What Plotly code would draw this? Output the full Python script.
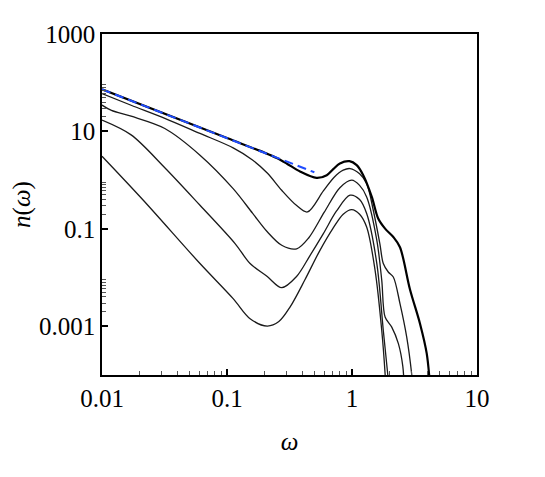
import plotly.graph_objects as go

# curve values (omega, n)
omega_a = [0.01, 0.1, 0.2, 0.25, 0.3, 0.384, 0.52, 0.628, 0.708, 0.80, 0.955, 1.09, 1.23, 1.44, 1.62, 1.84, 2.14, 2.42, 2.91, 3.50, 3.96, 4.21]
n_a = [73, 7.3, 3.65, 2.85, 2.2, 1.5, 1.11, 1.26, 1.68, 2.20, 2.45, 2.03, 1.26, 0.453, 0.163, 0.101, 0.0682, 0.042, 0.0057, 0.00113, 2.77e-4, 6.0e-5]

omega_b = [0.01, 0.0171, 0.0318, 0.0608, 0.112, 0.16, 0.21, 0.274, 0.361, 0.44, 0.59, 0.72, 0.85, 0.964, 1.15, 1.31, 1.48, 1.67, 1.78, 1.95, 2.14, 2.42, 2.74, 3.0, 3.08]
n_b = [60, 34.5, 18.6, 9.1, 4.6, 2.6, 1.4, 0.62, 0.3, 0.222, 0.6, 1.15, 1.6, 1.73, 1.35, 0.853, 0.241, 0.0499, 0.0194, 0.0130, 0.0103, 0.00292, 6.0e-4, 1.06e-4, 4.8e-5]

omega_c = [0.01, 0.0119, 0.0171, 0.0318, 0.0608, 0.112, 0.16, 0.21, 0.274, 0.361, 0.45, 0.6, 0.8, 0.995, 1.15, 1.31, 1.58, 1.73, 1.84, 2.08, 2.35, 2.55, 2.62]
n_c = [34.7, 27, 20.5, 11.5, 3.26, 0.67, 0.21, 0.087, 0.046, 0.039, 0.065, 0.22, 0.7, 1.0, 0.78, 0.453, 0.0583, 0.00877, 0.00155, 9.6e-4, 4.4e-4, 1.5e-4, 4.8e-5]

omega_d = [0.01, 0.0171, 0.0318, 0.0608, 0.116, 0.153, 0.21, 0.274, 0.36, 0.46, 0.59, 0.75, 0.964, 1.15, 1.31, 1.58, 1.78, 1.93, 1.98]
n_d = [17.1, 8.5, 1.8, 0.305, 0.0499, 0.0194, 0.0105, 0.0062, 0.0105, 0.028, 0.08, 0.23, 0.491, 0.4, 0.206, 0.0194, 8.2e-4, 1.06e-4, 4.8e-5]

omega_e = [0.01, 0.0214, 0.0608, 0.112, 0.153, 0.21, 0.26, 0.32, 0.42, 0.55, 0.7, 0.85, 0.995, 1.15, 1.31, 1.53, 1.73, 1.84, 1.87]
n_e = [3.10, 0.387, 0.0194, 0.00369, 0.00143, 0.00101, 0.00125, 0.0025, 0.009, 0.035, 0.1, 0.2, 0.249, 0.2, 0.109, 0.0141, 8.2e-4, 1.06e-4, 4.8e-5]

# power-law guide (blue dashed)
omega_fit = [0.01, 0.5]
n_fit = [73, 1.45]

x_ticks = [0.01, 0.1, 1, 10]
x_labels = ["0.01", "0.1", "1", "10"]
y_ticks = [0.001, 0.1, 10, 1000]
y_labels = ["0.001", "0.1", "10", "1000"]

x_minor = [k * 10.0 ** e for e in (-2, -1, 0) for k in range(2, 10)]
y_minor = [k * 10.0 ** e for e in (-3, -1, 1) for k in range(2, 10)]

fig = go.Figure()

thin = [(omega_e, n_e), (omega_d, n_d), (omega_c, n_c), (omega_b, n_b)]
for om, nn in thin:
    fig.add_trace(go.Scatter(
        x=om, y=nn, mode="lines",
        line=dict(color="#1a1a1a", width=1.3, shape="spline", smoothing=0.9),
        showlegend=False,
    ))

fig.add_trace(go.Scatter(
    x=omega_a, y=n_a, mode="lines",
    line=dict(color="#000000", width=2.2, shape="spline", smoothing=0.9),
    showlegend=False,
))

fig.add_trace(go.Scatter(
    x=omega_fit, y=n_fit, mode="lines",
    line=dict(color="#1f4cff", width=2, dash="9px,5px"),
    showlegend=False,
))

font = dict(family="Liberation Serif, Times New Roman, serif", size=25, color="black")

axis_common = dict(
    type="log",
    showline=True, mirror=True, linecolor="black", linewidth=1.5,
    ticks="inside", ticklen=6, tickwidth=1.5, tickcolor="black",
    showgrid=False, zeroline=False, automargin=False,
    tickfont=font,
)

fig.update_xaxes(
    **axis_common,
    range=[-2, 1],
    tickmode="array", tickvals=x_ticks, ticktext=x_labels,
    minor=dict(tickmode="array", tickvals=x_minor, ticks="inside", ticklen=4, tickcolor="#555", tickwidth=1),
    title=dict(text="<i>ω</i>", font=font, standoff=22),
)
fig.update_yaxes(
    **axis_common,
    range=[-4, 3],
    tickmode="array", tickvals=y_ticks, ticktext=y_labels,
    minor=dict(tickmode="array", tickvals=y_minor, ticks="inside", ticklen=4, tickcolor="#555", tickwidth=1),
    title=dict(text="<i>n</i>(<i>ω</i>)", font=font, standoff=4),
)

# page body adds an 8px offset, so the figure is a little smaller than the window
fig.update_layout(
    width=537, height=469,
    margin=dict(l=94, r=68, t=26, b=102),
    plot_bgcolor="white", paper_bgcolor="white",
    font=font,
)

fig.write_html("out.html")
